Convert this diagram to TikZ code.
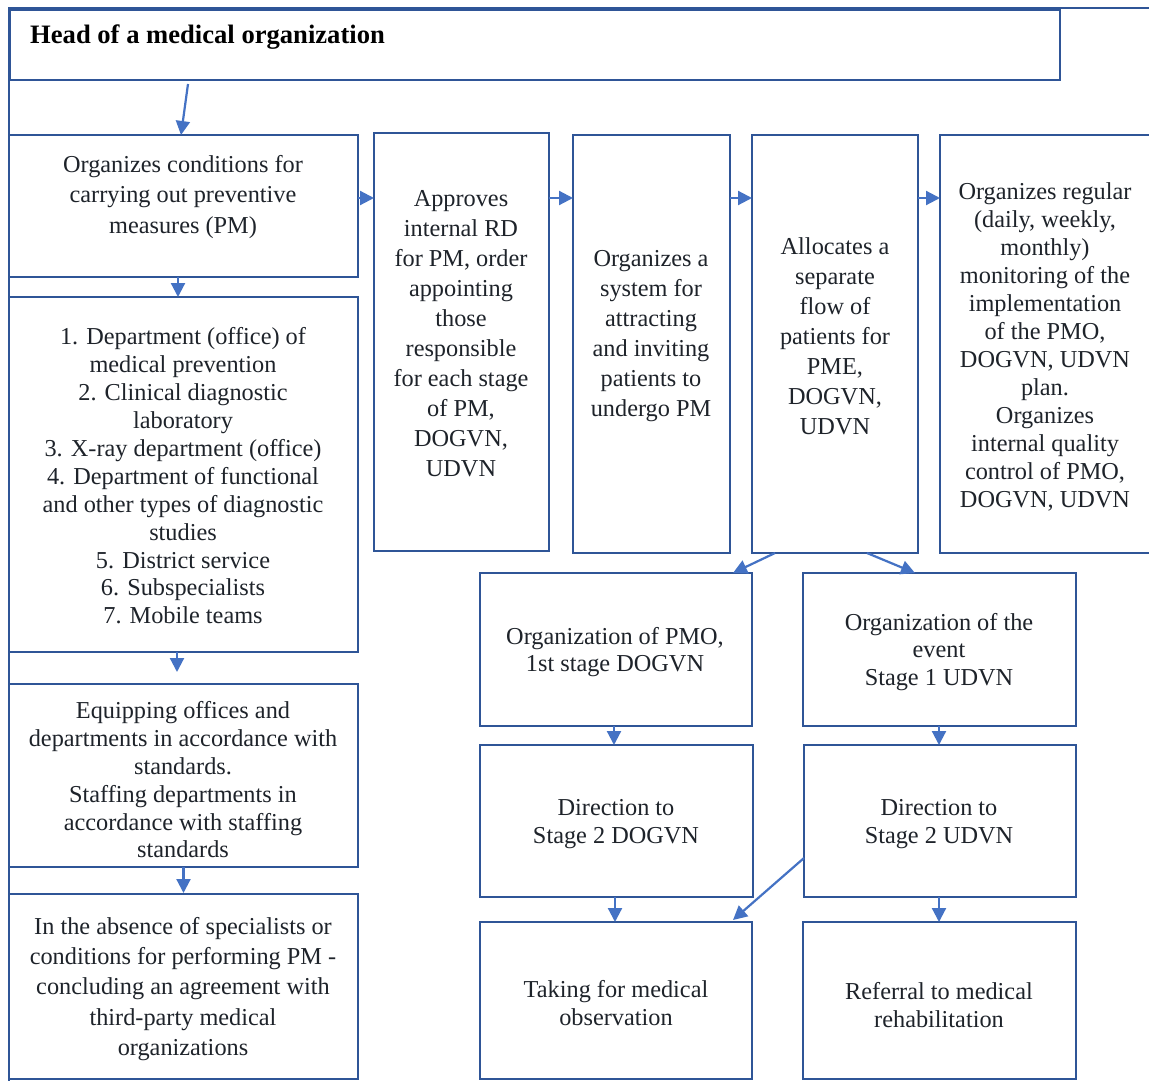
\documentclass[tikz,border=0pt]{standalone}
\usepackage{fontspec}
\setmainfont{Liberation Serif}
\usetikzlibrary{arrows.meta}
\definecolor{boxc}{HTML}{2F5597}
\definecolor{arrc}{HTML}{4472C4}
\definecolor{txtc}{HTML}{1E232A}
\newcommand\fsz[1]{\fontsize{24.3}{#1}\selectfont}
\tikzset{
  box/.style={draw=boxc, line width=2.8pt, rectangle, inner sep=0pt, outer sep=0pt, fill=white},
  txt/.style={text=txtc, align=center, inner sep=0pt},
  arr/.style={draw=arrc, line width=2.2pt, -{Triangle[length=14pt,width=14pt]}},
  frame/.style={draw=boxc, line width=2.8pt}
}
\begin{document}
\begin{tikzpicture}[x=1pt,y=-1pt]
\clip (0,0) rectangle (1149,1081);
\fill[white] (0,0) rectangle (1149,1081);
% outer frame lines
\draw[frame] (9,1085) -- (9,8) -- (1155,8);
% boxes
\node[box, minimum width=1050pt, minimum height=70pt] (head) at (535,45) {};
\node[box, minimum width=349pt, minimum height=142pt] (A) at (183.5,206) {};
\node[box, minimum width=349pt, minimum height=355pt] (B) at (183.5,474.5) {};
\node[box, minimum width=349pt, minimum height=183pt] (C) at (183.5,775.5) {};
\node[box, minimum width=349pt, minimum height=185pt] (D) at (183.5,986.5) {};
\node[box, minimum width=175pt, minimum height=418pt] (E) at (461.5,342) {};
\node[box, minimum width=157pt, minimum height=418pt] (F) at (651.5,344) {};
\node[box, minimum width=166pt, minimum height=418pt] (G) at (835,344) {};
\node[box, minimum width=220pt, minimum height=418pt] (H) at (1050,344) {};
\node[box, minimum width=272pt, minimum height=153pt] (I) at (616,649.5) {};
\node[box, minimum width=273pt, minimum height=153pt] (J) at (939.5,649.5) {};
\node[box, minimum width=273pt, minimum height=152pt] (K) at (616.5,821) {};
\node[box, minimum width=272pt, minimum height=152pt] (L) at (940,821) {};
\node[box, minimum width=272pt, minimum height=157pt] (M) at (616,1000.5) {};
\node[box, minimum width=273pt, minimum height=157pt] (N) at (939.5,1000.5) {};
% texts
\node[txt, anchor=west, font=\fontsize{26.6}{30}\selectfont\bfseries, text=black] (thead) at (30,37) {Head of a medical organization};
\node[txt, font=\fsz{30.5}] (tA) at (183,197) {Organizes conditions for\\carrying out preventive\\measures (PM)};
\node[txt, font=\fsz{27.9}] (tB) at (183,476) {1. Department (office) of\\medical prevention\\2. Clinical diagnostic\\laboratory\\3. X-ray department (office)\\4. Department of functional\\and other types of diagnostic\\studies\\5. District service\\6. Subspecialists\\7. Mobile teams};
\node[txt, font=\fsz{27.8}] (tC) at (183,780) {Equipping offices and\\departments in accordance with\\standards.\\Staffing departments in\\accordance with staffing\\standards};
\node[txt, font=\fsz{30.2}] (tD) at (183,989) {In the absence of specialists or\\conditions for performing PM -\\concluding an agreement with\\third-party medical\\organizations};
\node[txt, font=\fsz{30}] (tE) at (461,334) {Approves\\internal RD\\for PM, order\\appointing\\those\\responsible\\for each stage\\of PM,\\DOGVN,\\UDVN};
\node[txt, font=\fsz{30}] (tF) at (651,336) {Organizes a\\system for\\attracting\\and inviting\\patients to\\undergo PM};
\node[txt, font=\fsz{30}] (tG) at (835,336) {Allocates a\\separate\\flow of\\patients for\\PME,\\DOGVN,\\UDVN};
\node[txt, font=\fsz{28}] (tH) at (1045,347) {Organizes regular\\(daily, weekly,\\monthly)\\monitoring of the\\implementation\\of the PMO,\\DOGVN, UDVN\\plan.\\Organizes\\internal quality\\control of PMO,\\DOGVN, UDVN};
\node[txt, font=\fsz{27.5}] (tI) at (615,652) {Organization of PMO,\\1st stage DOGVN};
\node[txt, font=\fsz{27.5}] (tJ) at (939,652) {Organization of the\\event\\Stage 1 UDVN};
\node[txt, font=\fsz{28}] (tK) at (616,824) {Direction to\\Stage 2 DOGVN};
\node[txt, font=\fsz{28}] (tL) at (939,824) {Direction to\\Stage 2 UDVN};
\node[txt, font=\fsz{28}] (tM) at (616,1003) {Taking for medical\\observation};
\node[txt, font=\fsz{28}] (tN) at (939,1005) {Referral to medical\\rehabilitation};
% arrows
\draw[arr] ([xshift=-347pt,yshift=-4pt]head.south) -- ([xshift=-2.5pt]A.north);
\draw[arr] ([xshift=-5.5pt]A.south) -- ([xshift=-5.5pt]B.north);
\draw[arr] ([xshift=-6.5pt]B.south) -- ([xshift=-6.5pt,yshift=12pt]C.north);
\draw[arr] (C.south) -- ([yshift=1pt]D.north);
\draw[arr] ([yshift=8pt]A.east) -- ([yshift=144pt]E.west);
\draw[arr] ([yshift=144pt]E.east) -- ([yshift=146pt]F.west);
\draw[arr] ([yshift=146pt]F.east) -- ([yshift=146pt]G.west);
\draw[arr] ([yshift=146pt]G.east) -- ([yshift=146pt]H.west);
\draw[arr] ([xshift=-60pt]G.south) -- ([xshift=117pt]I.north);
\draw[arr] ([xshift=32pt]G.south) -- ([xshift=-24.5pt]J.north);
\draw[arr] ([xshift=-2pt]I.south) -- ([xshift=-2.5pt]K.north);
\draw[arr] ([xshift=-0.5pt]J.south) -- ([xshift=-1pt]L.north);
\draw[arr] ([xshift=-1.5pt]K.south) -- ([xshift=-1pt]M.north);
\draw[arr] ([yshift=-37pt]L.west) -- ([xshift=117pt,yshift=2pt]M.north);
\draw[arr] ([xshift=-1pt]L.south) -- ([xshift=-0.5pt]N.north);
\end{tikzpicture}
\end{document}
